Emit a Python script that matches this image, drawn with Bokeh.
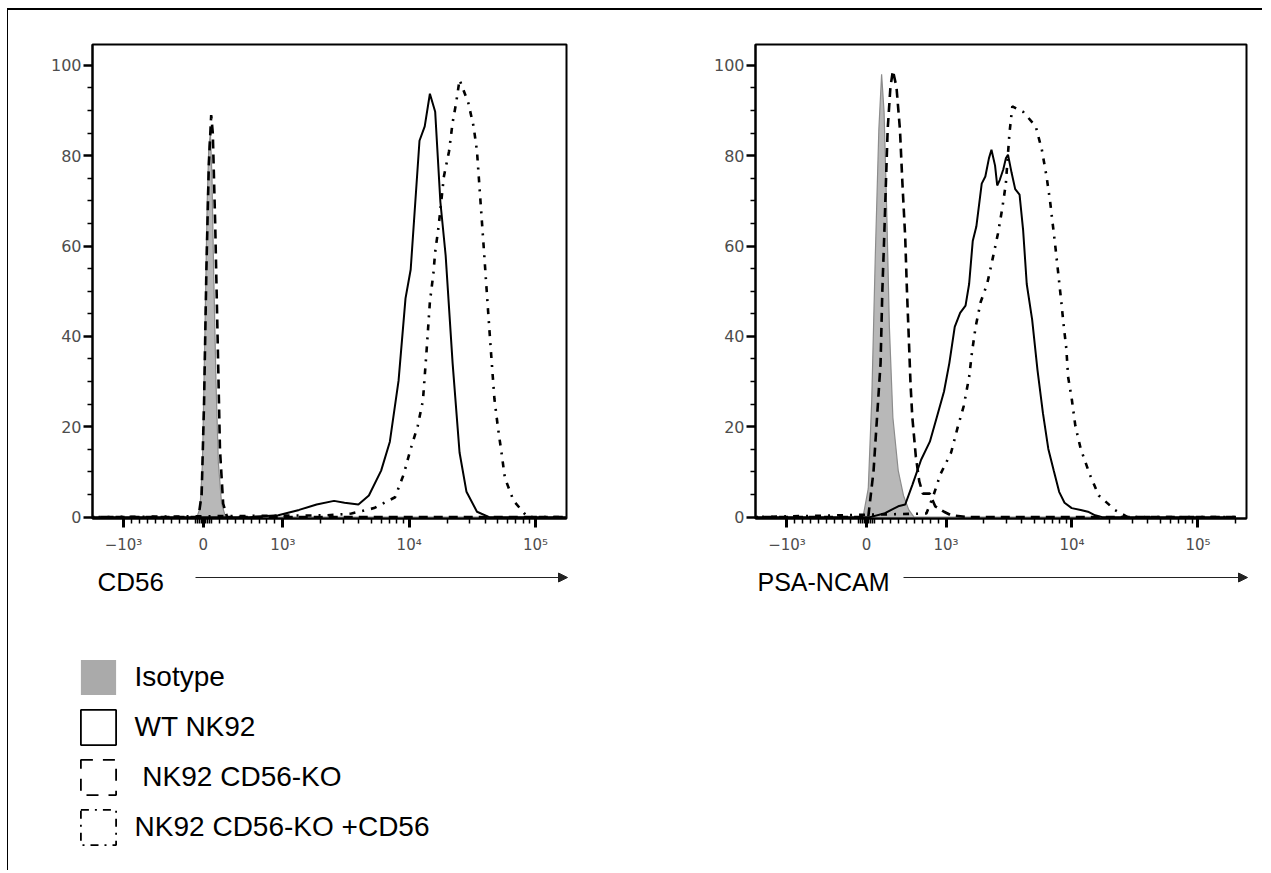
import numpy as np
from bokeh.plotting import figure
from bokeh.models import (Range1d, FixedTicker, Arrow, NormalHead, Legend,
                          LegendItem, Label, ColumnDataSource)
from bokeh.layouts import column, row
from bokeh.embed import file_html
from bokeh.resources import INLINE

# ---------------- data (fluorescence value, % of max) ----------------
# CD56 panel
cd56_iso_x = [-2000, -80, -40, -10, 20, 50, 70, 90, 110, 130, 160, 190, 230, 280, 200000]
cd56_iso_y = [0, 0, 2, 12, 40, 70, 82, 85, 75, 55, 30, 12, 3, 0, 0]

cd56_ko_x = [-2000, -60, -20, 10, 40, 70, 100, 120, 150, 180, 210, 250, 300, 200000]
cd56_ko_y = [0, 0, 5, 25, 55, 78, 89, 85, 65, 40, 15, 3, 0, 0]

cd56_wt_x = [-2000, 578, 942, 1343, 1849, 2541, 3076, 3963, 4797, 5998, 7031, 8241, 9354,
             10280, 12070, 13280, 14590, 16070, 17660, 19450, 22080, 25060, 28440, 34440,
             43050, 200000]
cd56_wt_y = [0, 0, 0.4, 1.6, 2.8, 3.6, 3.2, 2.8, 4.8, 10.3, 16.7, 30.2, 48.4,
             54.8, 83.3, 86.5, 93.7, 89.7, 69.8, 57.9, 34.1, 14.3, 5.6, 1.2,
             0, 0]

cd56_dd_x = [-2000, 2235, 3491, 5272, 7727, 9057, 10280, 11690, 12850, 13710, 14590, 15560,
             16070, 17100, 18840, 20700, 22080, 23550, 25060, 29380, 32360, 34440, 36730,
             39170, 41690, 44460, 47320, 50470, 53830, 57280, 67140, 86700, 200000]
cd56_dd_y = [0, 0.4, 0.8, 2.0, 4.4, 9.5, 15.1, 20.2, 25.8, 36.5, 47.6, 54.0,
             58.7, 64.3, 75.4, 81.0, 87.3, 91.7, 96.8, 91.7, 86.5, 81.0, 69.8,
             58.7, 47.6, 36.5, 26.2, 19.8, 14.3, 8.7, 3.6, 0, 0]

# PSA-NCAM panel
psa_iso_x = [-2000, -44, 22, 66, 111, 155, 190, 221, 257, 288, 332, 399, 465, 532, 598, 200000]
psa_iso_y = [0, 0, 6.3, 26, 58, 85.7, 98, 89.7, 65.9, 42, 22, 10.3, 4.8, 1.6, 0, 0]

psa_ko_x = [-2000, 22, 89, 133, 177, 199, 221, 244, 266, 301, 332, 377, 421, 452, 487, 509,
            532, 554, 576, 620, 664, 709, 797, 864, 975, 1098, 1526, 200000]
psa_ko_y = [0, 0, 10.3, 22.2, 34.1, 50, 61.1, 73.8, 85.7, 95.2, 98.8, 95.2, 85.7, 73.8, 61.9, 50,
            39.7, 29.4, 22.2, 13.5, 7.9, 5.2, 5.2, 2.4, 1.2, 0.4, 0, 0]

psa_wt_x = [-2000, 44, 221, 399, 487, 576, 687, 797, 886, 975, 1063, 1173, 1295, 1429, 1526,
            1630, 1741, 1921, 2052, 2191, 2295, 2451, 2549, 2670, 2851, 2985, 3105, 3316,
            3542, 3834, 4094, 4373, 4827, 5326, 5880, 6488, 7161, 7907, 8723, 9952, 11730,
            13380, 15260, 17410, 200000]
psa_wt_y = [0, 0, 0.8, 2.4, 2.8, 7.1, 12.7, 16.7, 22.2, 27.8, 34.1, 42.1, 45.2, 46.8, 51.6,
            61.1, 64.3, 73.8, 75.4, 79.4, 81.3, 77.8, 73.4, 74.6, 77.0, 79.4, 80.2, 76.2,
            72.6, 71.4, 63.5, 51.6, 43.7, 32.5, 23.0, 15.1, 10.3, 5.6, 3.2, 2.0, 1.6,
            1.2, 0.4, 0, 0]

psa_dd_x = [-2000, 753, 842, 930, 1098, 1236, 1383, 1526, 1608, 1718, 1884, 2121, 2341, 2583,
            2795, 2985, 3188, 3360, 4094, 5153, 5765, 6281, 6707, 7403, 8170, 8554, 9016,
            9318, 9952, 10630, 11730, 13820, 16300, 21910, 27590, 200000]
psa_dd_y = [0, 0.8, 4.8, 9.5, 14.3, 19.8, 24.6, 31.0, 36.5, 42.1, 47.6, 51.6, 57.1, 62.7,
            68.3, 73.8, 84.9, 90.9, 89.7, 86.5, 81.3, 75.4, 69.8, 59.5, 48.4, 42.9, 37.3,
            31.0, 26.2, 20.2, 15.1, 9.5, 4.8, 1.6, 0, 0]

axis_titles = ["CD56", "PSA-NCAM"]
legend_labels = ["Isotype", "WT NK92", " NK92 CD56-KO", "NK92 CD56-KO +CD56"]

major_values = [-1000, 0, 1000, 10000, 100000]
major_labels = ["\u221210\u00b3", "0", "10\u00b3", "10\u2074", "10\u2075"]
minor_values = (list(range(-900, -100, 100)) + [-100, -75, -50, -25, 25, 50, 75, 100]
                + list(range(200, 1000, 100)) + list(range(2000, 10000, 1000))
                + list(range(20000, 100000, 10000)) + [200000])
y_major = [0, 20, 40, 60, 80, 100]
y_minor = [v for v in range(5, 105, 5) if v % 20 != 0]

# ---------------- logicle-like display transform ----------------
K = 0.631


def logicle(v):
    v = np.asarray(v, dtype=float)
    a = np.abs(v)
    lin = v / 1000.0 * K
    lg = np.sign(v) * (K + np.log10(np.maximum(a, 1000.0) / 1000.0))
    return np.where(a <= 1000, lin, lg)


MAJOR_T = [float(t) for t in logicle(major_values)]
MINOR_T = [float(t) for t in logicle(minor_values)]

TICK_FONT = "DejaVu Sans"
TEXT_FONT = "Liberation Sans"
H_TOP = 548


def panel(width, border_left, border_right, xr, iso, wt, ko, dd):
    p = figure(width=width, height=H_TOP,
               x_range=Range1d(*xr), y_range=Range1d(-0.3, 104.6),
               toolbar_location=None, output_backend="svg",
               min_border_left=border_left, min_border_right=border_right,
               min_border_top=34, min_border_bottom=40)
    p.grid.visible = False
    p.outline_line_color = "black"
    p.outline_line_width = 2
    p.background_fill_color = "white"
    p.border_fill_color = "white"

    src = ColumnDataSource(dict(x=logicle(iso[0]), y=iso[1]))
    p.varea(x="x", y1=0, y2="y", source=src, fill_color="#b8b8b8")
    p.line("x", "y", source=src, line_color="#8c8c8c", line_width=1.2)
    p.line(logicle(wt[0]), wt[1], line_color="black", line_width=2)
    p.line(logicle(ko[0]), ko[1], line_color="black", line_width=2.6, line_dash="9 6")
    p.line(logicle(dd[0]), dd[1], line_color="black", line_width=2.6, line_dash="6 7 2 7")

    xa = p.xaxis[0]
    xa.ticker = FixedTicker(ticks=MAJOR_T, minor_ticks=MINOR_T)
    xa.major_label_overrides = dict(zip(MAJOR_T, major_labels))
    xa.major_label_text_align = "left"
    xa.axis_line_width = 2
    xa.axis_line_color = "black"
    xa.major_tick_line_width = 3
    xa.major_tick_out = 9
    xa.major_tick_in = 0
    xa.minor_tick_line_width = 1.5
    xa.minor_tick_out = 5
    xa.minor_tick_in = 0
    xa.major_label_standoff = 8
    xa.major_label_text_font = TICK_FONT
    xa.major_label_text_font_size = "15px"
    xa.major_label_text_color = "#4d4d4d"

    ya = p.yaxis[0]
    ya.ticker = FixedTicker(ticks=y_major, minor_ticks=y_minor)
    ya.axis_line_width = 2
    ya.axis_line_color = "black"
    ya.major_tick_line_width = 2.5
    ya.major_tick_out = 9
    ya.major_tick_in = 0
    ya.minor_tick_line_width = 1.5
    ya.minor_tick_out = 5
    ya.minor_tick_in = 0
    ya.major_label_standoff = 2
    ya.major_label_text_font = TICK_FONT
    ya.major_label_text_font_size = "16px"
    ya.major_label_text_color = "#4d4d4d"
    return p


p1 = panel(620, 84, 62, (-0.877, 2.877), (cd56_iso_x, cd56_iso_y), (cd56_wt_x, cd56_wt_y),
           (cd56_ko_x, cd56_ko_y), (cd56_dd_x, cd56_dd_y))
p2 = panel(634, 127, 16, (-0.881, 3.016), (psa_iso_x, psa_iso_y), (psa_wt_x, psa_wt_y),
           (psa_ko_x, psa_ko_y), (psa_dd_x, psa_dd_y))

# ---------------- bottom strip: axis titles with arrows + legend ----------------
W3, H3 = 1254, 312
p3 = figure(width=W3, height=H3, x_range=Range1d(0, W3), y_range=Range1d(H3, 0),
            toolbar_location=None, output_backend="svg",
            x_axis_location=None, y_axis_location=None,
            min_border=0, outline_line_color=None)
p3.xgrid.visible = False
p3.ygrid.visible = False

for title, tx, size, ax0, ax1 in [(axis_titles[0], 89, "26px", 187, 559),
                                  (axis_titles[1], 749, "25px", 895, 1239)]:
    p3.add_layout(Label(x=tx, y=23, text=title, text_font=TEXT_FONT, text_font_size=size,
                        text_baseline="middle", text_align="left", text_color="black"))
    p3.add_layout(Arrow(x_start=ax0, y_start=19, x_end=ax1, y_end=19,
                        line_color="#222222", line_width=1,
                        end=NormalHead(size=9, fill_color="#222222", line_color="#222222")))

# legend proxies (no visible data of their own)
nan = dict(left=[np.nan], right=[np.nan], top=[np.nan], bottom=[np.nan])
r_iso = p3.quad(**nan, fill_color="#aaaaaa", line_color=None)
r_wt = p3.quad(**nan, fill_alpha=0, line_color="black", line_width=1.8)
r_ko = p3.quad(**nan, fill_alpha=0, line_color="black", line_width=1.8, line_dash="12 10")
r_dd = p3.quad(**nan, fill_alpha=0, line_color="black", line_width=1.8, line_dash="8 6 2 6")

legend = Legend(items=[LegendItem(label=legend_labels[0], renderers=[r_iso]),
                       LegendItem(label=legend_labels[1], renderers=[r_wt]),
                       LegendItem(label=legend_labels[2], renderers=[r_ko]),
                       LegendItem(label=legend_labels[3], renderers=[r_dd])],
                location=(67.6, 21.5), orientation="vertical",
                glyph_width=44, glyph_height=44, label_height=44, spacing=6,
                label_standoff=15, padding=0, margin=0,
                border_line_color=None, background_fill_alpha=0,
                label_text_font=TEXT_FONT, label_text_font_size="28px",
                label_text_baseline="middle",
                label_text_color="black")
p3.add_layout(legend)

layout = column(row(p1, p2), p3,
                styles={"margin-top": "8px", "margin-left": "7px",
                        "border-top": "2px solid black", "border-left": "1px solid black"})

open("out.html", "w").write(file_html(layout, INLINE))
